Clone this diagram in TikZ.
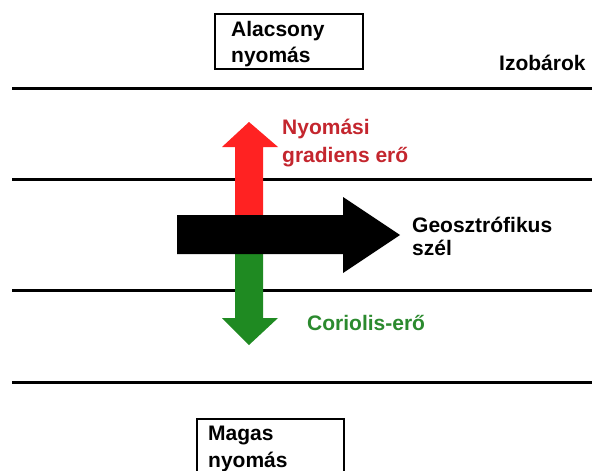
\documentclass[tikz,border=0pt]{standalone}
\usepackage{fontspec}
\setmainfont{Liberation Sans}
\definecolor{pgfred}{HTML}{FF2222}
\definecolor{pgftext}{HTML}{C4262E}
\definecolor{corgreen}{HTML}{1F8A22}
\definecolor{cortext}{HTML}{2B8A2E}
\begin{document}
\begin{tikzpicture}[x=1pt,y=-1pt,
  isobar/.style={line width=3pt, black},
  label/.style={font=\bfseries\fontsize{21}{26}\selectfont, anchor=base west, inner sep=0pt, align=left},
  pbox/.style={draw=black, line width=2.2pt, anchor=north west, inner sep=0pt,
    minimum width=148pt, minimum height=55pt}]
\useasboundingbox (0,0) rectangle (592,471);
\clip (0,0) rectangle (592,471);
\fill[white] (0,0) rectangle (592,471);

% isobars
\foreach \y/\n in {88/a,179/b,290/c,382/d}{
  \coordinate (iso\n W) at (12,\y);
  \coordinate (iso\n E) at (592,\y);
  \draw[isobar] (iso\n W) -- (iso\n E);
}

% pressure boxes (the lower one runs past the bottom edge)
\node[pbox] (low) at (214,13) {};
\node[label, font=\bfseries\fontsize{21}{26}\selectfont] (lowtext) at (231,62) {Alacsony\\nyomás};
\node[pbox, minimum width=147pt, minimum height=70pt] (high) at (196,418) {};
\node[label, font=\bfseries\fontsize{21}{27}\selectfont] (hightext) at (208,467) {Magas\\nyomás};

\node[label] (iso) at (499,70) {Izobárok};

% pressure gradient force (up)
\fill[pgfred] (235,220) -- (235,147) -- (222,147) -- (249,122) -- (278,147) -- (263,147) -- (263,220) -- cycle;
% Coriolis force (down)
\fill[corgreen] (235,250) -- (235,318) -- (222,318) -- (249,345) -- (278,318) -- (263,318) -- (263,250) -- cycle;
% geostrophic wind
\fill[black] (177,215) -- (343,215) -- (343,197) -- (400,235) -- (343,273) -- (343,254) -- (177,254) -- cycle;

\node[label, text=pgftext, font=\bfseries\fontsize{21}{28}\selectfont] (pgf) at (282,162) {Nyomási\\gradiens erő};
\node[label, font=\bfseries\fontsize{21}{23}\selectfont] (wind) at (412,255) {Geosztrófikus\\szél};
\node[label, text=cortext] (cor) at (307,330) {Coriolis-erő};
\end{tikzpicture}
\end{document}
